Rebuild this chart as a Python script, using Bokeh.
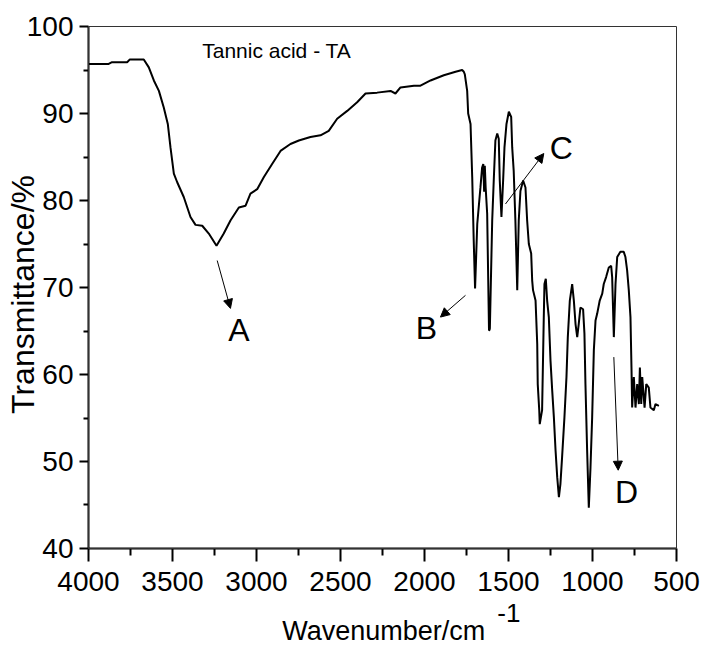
from bokeh.plotting import figure
from bokeh.models import Range1d, FixedTicker, Label, Arrow, NormalHead, BoxAnnotation
from bokeh.embed import file_html
from bokeh.resources import INLINE

# ---- data ----
wavenumber = [4000, 3880, 3860, 3770, 3755, 3671, 3641, 3611, 3581, 3552, 3528, 3512, 3492,
              3472, 3433, 3393, 3363, 3323, 3284, 3238, 3195, 3155, 3105, 3065, 3036, 2996,
              2956, 2907, 2857, 2798, 2748, 2679, 2619, 2570, 2520, 2460, 2401, 2351, 2282,
              2202, 2173, 2143, 2063, 2024, 1964, 1885, 1815, 1776, 1766, 1760, 1746, 1740,
              1726, 1716, 1707, 1699, 1686, 1667, 1657, 1650, 1645, 1641, 1636, 1627, 1616,
              1613, 1611, 1597, 1587, 1578, 1567, 1558, 1552, 1542, 1532, 1524, 1512, 1498,
              1484, 1478, 1469, 1459, 1448, 1439, 1429, 1413, 1399, 1389, 1379, 1365, 1359,
              1354, 1339, 1329, 1326, 1317, 1314, 1300, 1290, 1286, 1278, 1270, 1260, 1250,
              1240, 1230, 1220, 1210, 1200, 1191, 1181, 1167, 1155, 1147, 1135, 1121, 1111,
              1101, 1091, 1082, 1072, 1056, 1048, 1042, 1032, 1022, 1012, 1002, 992, 982,
              972, 957, 942, 933, 919, 903, 889, 883, 873, 863, 853, 834, 814, 804, 794, 784,
              774, 768, 764, 754, 744, 734, 724, 718, 710, 704, 690, 680, 665, 655, 635, 625,
              605]
transmittance = [95.7, 95.7, 95.9, 95.9, 96.2, 96.2, 95.3, 93.8, 92.6, 90.7, 88.8, 86.1, 83.1,
                 82.1, 80.4, 78.1, 77.2, 77.1, 76.2, 74.8, 76.2, 77.7, 79.2, 79.4, 80.8, 81.3,
                 82.7, 84.2, 85.7, 86.5, 86.9, 87.3, 87.5, 88.0, 89.4, 90.3, 91.3, 92.3, 92.4,
                 92.6, 92.3, 93.0, 93.2, 93.2, 93.8, 94.4, 94.8, 95.0, 94.8, 94.5, 92.6, 90.0,
                 88.8, 82.7, 75.4, 69.9, 77.3, 81.5, 83.8, 84.2, 81.0, 84.0, 81.5, 78.5, 65.1,
                 65.1, 65.3, 77.7, 82.7, 86.9, 87.7, 87.1, 82.3, 78.1, 82.3, 86.1, 88.8, 90.2,
                 89.6, 86.1, 83.4, 77.7, 69.7, 77.7, 81.1, 82.3, 81.5, 77.7, 75.0, 73.9, 70.8,
                 69.7, 68.5, 63.5, 58.9, 55.9, 54.3, 55.9, 66.6, 70.4, 71.0, 68.5, 66.6, 61.6,
                 58.2, 55.1, 51.3, 48.2, 45.9, 47.4, 50.5, 55.1, 59.7, 64.3, 68.5, 70.4, 68.5,
                 65.8, 64.3, 65.8, 67.7, 67.5, 64.7, 58.9, 51.3, 44.7, 49.3, 55.1, 62.8, 66.2,
                 67.0, 68.5, 69.3, 70.4, 71.2, 72.3, 72.5, 71.2, 64.3, 70.4, 73.5, 74.1, 74.1,
                 73.5, 72.0, 69.7, 66.6, 60.8, 56.2, 59.7, 56.2, 58.9, 56.6, 60.8, 56.6, 59.7,
                 56.2, 58.9, 58.5, 56.2, 55.9, 56.6, 56.4]

x_ticks = [4000, 3500, 3000, 2500, 2000, 1500, 1000, 500]
x_minor_ticks = [3750, 3250, 2750, 2250, 1750, 1250, 750]
y_ticks = [40, 50, 60, 70, 80, 90, 100]
y_minor_ticks = [45, 55, 65, 75, 85, 95]
x_axis_limits = (500, 4000)
y_axis_limits = (40, 100)

title_text = "Tannic acid - TA"
x_label_text = "Wavenumber/cm"
x_label_sup = "-1"
y_label_text = "Transmittance/%"

peak_names = ["A", "B", "C", "D"]
peak_label_x = [3104, 1988, 1185, 798]
peak_label_y = [65.06, 65.29, 86.03, 46.49]
arrow_x_start = [3234, 1756, 1518, 873]
arrow_y_start = [73.1, 69.1, 79.6, 62.0]
arrow_x_end = [3155, 1905, 1290, 847]
arrow_y_end = [67.6, 66.6, 85.4, 49.0]

FONT = "Liberation Sans"

# the frame spans the whole canvas; axes are pinned at x=4000 and y=40
p = figure(width=705, height=645, output_backend="svg", toolbar_location=None,
           x_range=Range1d(4523.8, 327.4), y_range=Range1d(28.85, 102.99),
           min_border_left=0, min_border_right=0, min_border_top=0, min_border_bottom=0)
p.background_fill_color = "white"
p.border_fill_color = "white"
p.outline_line_color = None
p.xgrid.visible = False
p.ygrid.visible = False

# plot box (top and right edges)
p.add_layout(BoxAnnotation(left=x_axis_limits[1], right=x_axis_limits[0],
                           bottom=y_axis_limits[0], top=y_axis_limits[1],
                           fill_alpha=0, line_color="#333333", line_width=1, line_alpha=1))

p.line(wavenumber, transmittance, line_color="black", line_width=2)

# axes
p.xaxis.ticker = FixedTicker(ticks=x_ticks, minor_ticks=x_minor_ticks)
p.yaxis.ticker = FixedTicker(ticks=y_ticks, minor_ticks=y_minor_ticks)
p.xaxis.fixed_location = y_axis_limits[0]
p.yaxis.fixed_location = x_axis_limits[1]
p.xaxis.bounds = x_axis_limits
p.yaxis.bounds = y_axis_limits
for ax in (p.xaxis[0], p.yaxis[0]):
    ax.axis_line_width = 2
    ax.axis_line_color = "black"
    ax.major_tick_line_width = 2
    ax.minor_tick_line_width = 2
    ax.major_tick_line_color = "black"
    ax.minor_tick_line_color = "black"
    ax.major_tick_in = 0
    ax.minor_tick_in = 0
    ax.major_label_text_font = FONT
    ax.major_label_text_font_size = "28px"
    ax.major_label_text_color = "black"
p.xaxis.major_tick_out = 13
p.xaxis.minor_tick_out = 7
p.yaxis.major_tick_out = 9
p.yaxis.minor_tick_out = 5
p.xaxis.major_label_standoff = 11
p.yaxis.major_label_standoff = 6

# axis titles
p.add_layout(Label(x=4387, y=69.2, text=y_label_text, angle=1.5707963, text_align="center",
                   text_baseline="middle", text_font=FONT, text_font_size="32px",
                   text_color="black"))
p.add_layout(Label(x=2847, y=30.48, text=x_label_text, text_align="left",
                   text_baseline="middle", text_font=FONT, text_font_size="27px",
                   text_color="black"))
p.add_layout(Label(x=1567, y=32.59, text=x_label_sup, text_align="left",
                   text_baseline="middle", text_font=FONT, text_font_size="26px",
                   text_color="black"))

# inner title
p.add_layout(Label(x=3323, y=97.22, text=title_text, text_align="left",
                   text_baseline="middle", text_font=FONT, text_font_size="21px",
                   text_color="black"))

# peak annotations
for name, lx, ly, xs, ys, xe, ye in zip(peak_names, peak_label_x, peak_label_y,
                                        arrow_x_start, arrow_y_start, arrow_x_end, arrow_y_end):
    p.add_layout(Arrow(x_start=xs, y_start=ys, x_end=xe, y_end=ye, line_width=1,
                       line_color="black",
                       end=NormalHead(size=9, fill_color="black", line_color="black",
                                      line_width=1)))
    p.add_layout(Label(x=lx, y=ly, text=name, text_align="center", text_baseline="middle",
                       text_font=FONT, text_font_size="32px", text_color="black"))

open("out.html", "w").write(file_html(p, INLINE))
